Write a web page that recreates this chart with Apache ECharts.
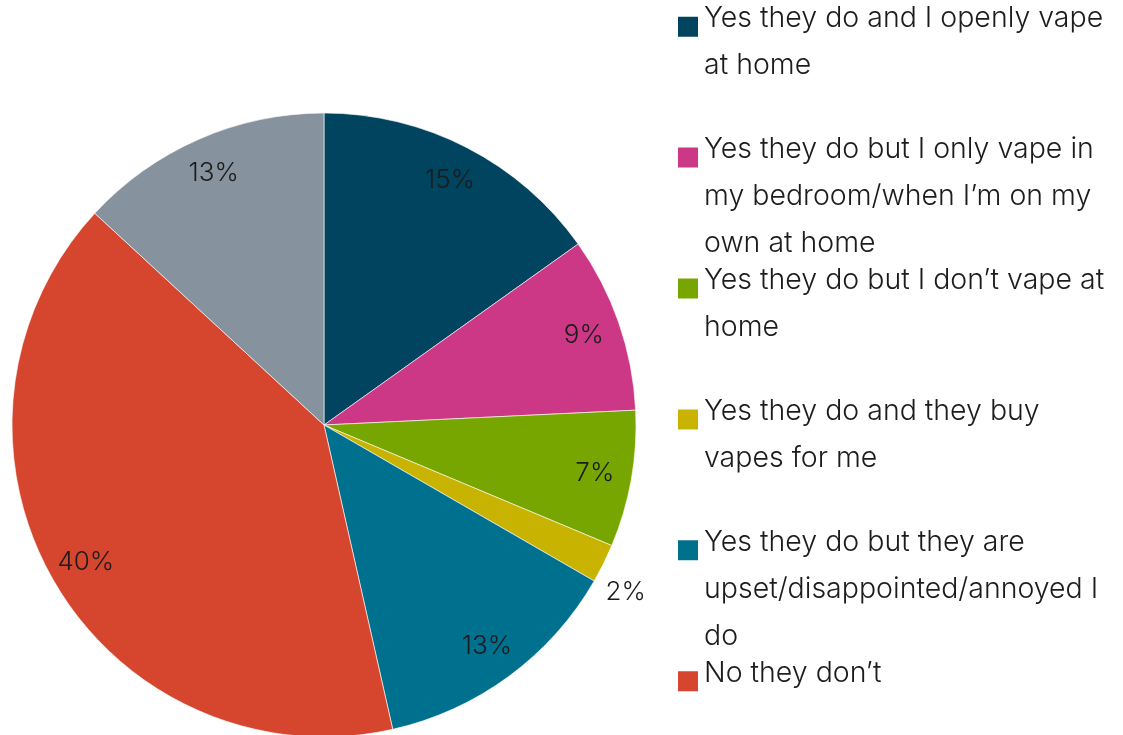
<!DOCTYPE html>
<html>
<head>
<meta charset="utf-8">
<style>
  html, body { margin: 0; padding: 0; background: #ffffff; }
  #chart { width: 1123px; height: 735px; }
</style>
<script src="https://cdn.jsdelivr.net/npm/echarts@6/dist/echarts.min.js"></script>
</head>
<body>
<div id="chart"></div>
<script>
// Survey answers, clockwise from 12 o'clock
const categories = [
  'Yes they do and I openly vape at home',
  'Yes they do but I only vape in my bedroom/when I’m on my own at home',
  'Yes they do but I don’t vape at home',
  'Yes they do and they buy vapes for me',
  'Yes they do but they are upset/disappointed/annoyed I do',
  'No they don’t'
];
// Wrapped legend text for each answer
const legendLines = [
  ['Yes they do and I openly vape', 'at home'],
  ['Yes they do but I only vape in', 'my bedroom/when I’m on my', 'own at home'],
  ['Yes they do but I don’t vape at', 'home'],
  ['Yes they do and they buy', 'vapes for me'],
  ['Yes they do but they are', 'upset/disappointed/annoyed I', 'do'],
  ['No they don’t']
];
// Share of respondents (%) for each answer, then the remaining share
const percentValues = [15, 9, 7, 2, 13, 40];
const otherLabel = 'Other';
const otherValue = 13;
const colors = ['#00445F', '#CD3886', '#77A600', '#C8B400', '#00708F', '#D6462E', '#86939E'];

const FONT = 'Inter';
const TEXT_COLOR = '#1c1c1c';
const LEGEND_SIZE = 28.5;
const LABEL_SIZE = 26;
const LINE_H = 47;
const SMALL_SLICE = 3; // the 2% slice gets its label outside

const names = categories.concat([otherLabel]);
const values = percentValues.concat([otherValue]);

const pieData = names.map((n, i) => ({
  name: n,
  value: values[i],
  itemStyle: { color: colors[i] },
  label: i === SMALL_SLICE ? { show: true, position: 'outside' } : { show: false }
}));

const ringData = names.map((n, i) => ({
  name: n,
  value: values[i],
  label: { show: i !== SMALL_SLICE }
}));

// Swatch: a 22px square sitting in the lower part of a 38px-tall icon box,
// so the text line (centred on the box) reads slightly above the square.
const SWATCH_ICON = 'path://M0,0L0,0Z M0,16L22,16L22,38L0,38Z';

// One legend block per answer, evenly stacked. Blank lines before the text
// put its first line in the middle of the block, level with the swatch.
const FIRST_LINE_Y = 18.7;
const LEGEND_STEP = 130.9;
const legends = categories.map((name, i) => {
  const lines = legendLines[i];
  const n = lines.length;
  const lineCenter = FIRST_LINE_Y + LEGEND_STEP * i;
  const text = '\n'.repeat(n - 1) + lines.join('\n');
  return {
    orient: 'vertical',
    left: 676,
    top: lineCenter - (2 * n - 1) * LINE_H / 2,
    padding: 0,
    itemWidth: 22,
    itemHeight: 38,
    icon: SWATCH_ICON,
    selectedMode: false,
    data: [name],
    formatter: () => text,
    textStyle: {
      fontFamily: FONT,
      fontWeight: 300,
      fontSize: LEGEND_SIZE,
      lineHeight: LINE_H,
      color: TEXT_COLOR
    }
  };
});

const chart = echarts.init(document.getElementById('chart'), null, { renderer: 'canvas' });
chart.setOption({
  backgroundColor: '#ffffff',
  animation: false,
  legend: legends,
  series: [
    {
      type: 'pie',
      center: [324, 425],
      radius: 312,
      startAngle: 90,
      clockwise: true,
      avoidLabelOverlap: false,
      data: pieData,
      itemStyle: { borderColor: '#ffffff', borderWidth: 0.6 },
      emphasis: { disabled: true },
      label: {
        formatter: p => p.value + '%',
        fontFamily: FONT,
        fontWeight: 300,
        fontSize: LABEL_SIZE,
        color: TEXT_COLOR,
        distanceToLabelLine: 5
      },
      labelLine: { show: false, length: 10, length2: 0 },
      labelLayout: p => (p.dataIndex === SMALL_SLICE ? { dx: -12, dy: 24 } : {})
    },
    {
      // transparent outer band that carries the in-slice labels
      type: 'pie',
      center: [324, 425],
      radius: [232, 312],
      startAngle: 90,
      clockwise: true,
      silent: true,
      avoidLabelOverlap: false,
      data: ringData,
      itemStyle: { color: 'rgba(0,0,0,0)' },
      label: {
        position: 'inside',
        formatter: p => p.value + '%',
        fontFamily: FONT,
        fontWeight: 300,
        fontSize: LABEL_SIZE,
        color: TEXT_COLOR
      },
      labelLine: { show: false }
    }
  ]
});
</script>
</body>
</html>
